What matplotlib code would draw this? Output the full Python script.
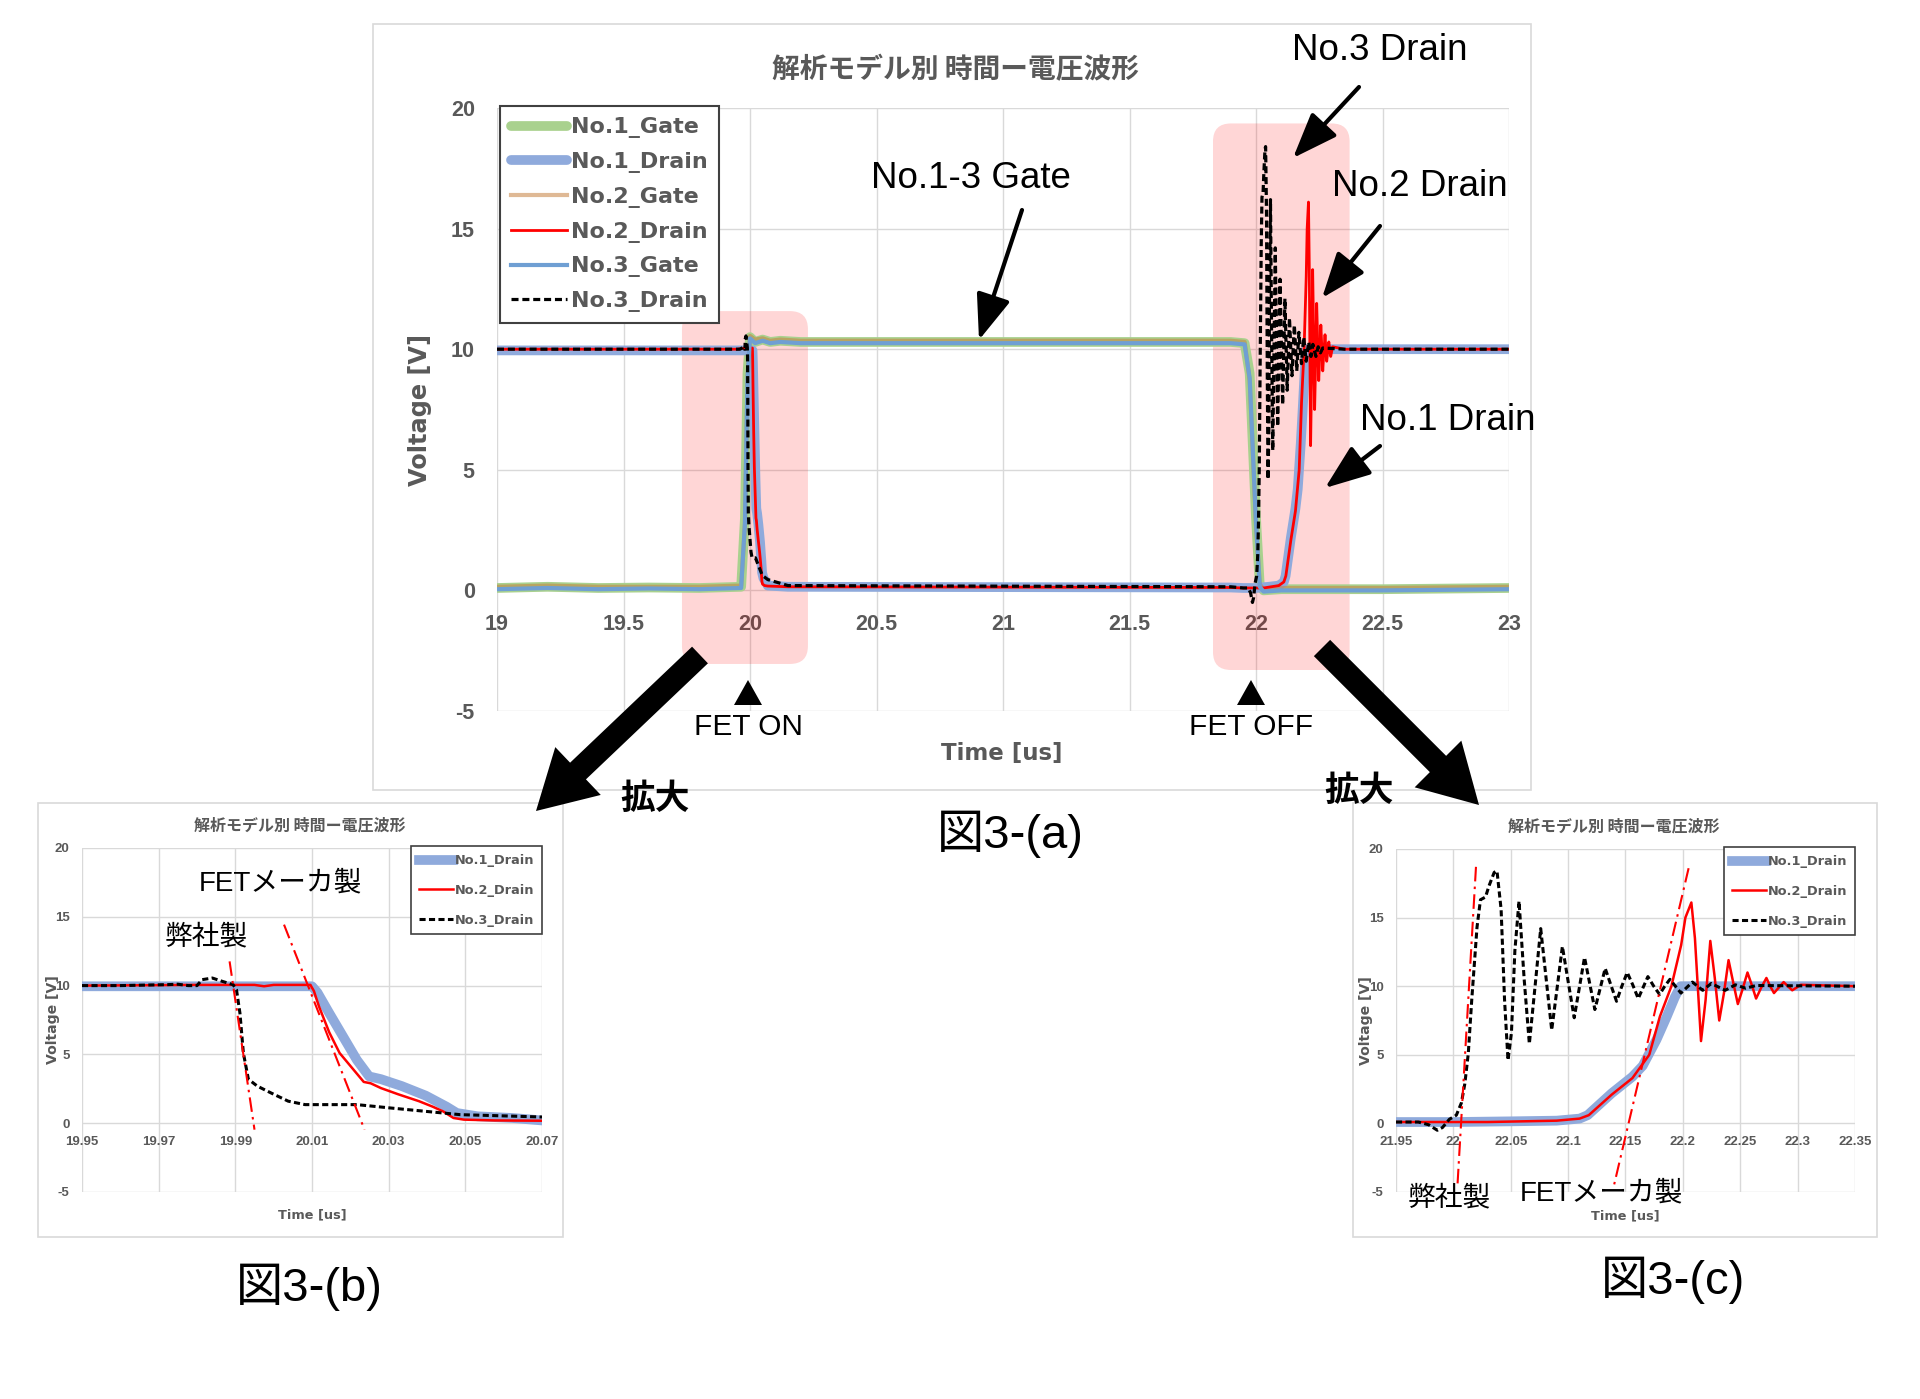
import matplotlib

matplotlib.use("Agg")
import matplotlib.pyplot as plt
from matplotlib.patches import FancyArrow, FancyBboxPatch, Polygon, Rectangle
from matplotlib.transforms import IdentityTransform

W, H = 1920, 1399
GRAY = "#595959"
LATIN = ["Liberation Sans", "Noto Sans CJK JP"]
CJK = ["Noto Sans CJK JP", "DejaVu Sans"]

# ---- gate waveforms (main chart, 19-23 us) ----
gate_t = [19.0, 19.2, 19.4, 19.6, 19.8, 19.965, 19.98, 19.99, 20.0, 20.02, 20.05, 20.08, 20.12,
          20.2, 20.5, 21.0, 21.5, 21.9, 21.955, 21.975, 22.0, 22.015, 22.03, 22.1, 22.5, 23.0]
gate1_v = [0.1, 0.15, 0.1, 0.12, 0.1, 0.15, 3.0, 9.0, 10.5, 10.3, 10.4, 10.3, 10.35,
           10.3, 10.3, 10.3, 10.3, 10.3, 10.25, 9.0, 3.0, 0.2, 0.0, 0.05, 0.05, 0.1]
gate2_v = [0.15, 0.2, 0.15, 0.15, 0.15, 0.2, 2.7, 8.7, 10.55, 10.4, 10.45, 10.35, 10.4,
           10.35, 10.35, 10.35, 10.35, 10.35, 10.3, 8.7, 2.7, 0.25, 0.05, 0.1, 0.1, 0.15]
gate3_v = [0.05, 0.1, 0.05, 0.08, 0.05, 0.1, 2.8, 8.8, 10.45, 10.25, 10.35, 10.25, 10.3,
           10.25, 10.25, 10.25, 10.25, 10.25, 10.2, 8.8, 2.8, 0.15, -0.05, 0.0, 0.0, 0.05]

# ---- drain waveforms, turn-on (19.95-20.07 us) ----
d1_on_t = [19.95, 19.98, 20.01, 20.0114, 20.0145, 20.0181, 20.0217, 20.0249, 20.028, 20.0334,
           20.0397, 20.0451, 20.0478, 20.0532, 20.0622, 20.07]
d1_on_v = [9.95, 9.95, 9.95, 9.5, 8.0, 6.3, 4.6, 3.4, 3.2, 2.7, 2.0, 1.2, 0.74, 0.5, 0.38, 0.2]
d2_on_t = [19.95, 19.98, 19.995, 19.9975, 20.0, 20.0096, 20.0105, 20.0118, 20.0145, 20.0172,
           20.0208, 20.0235, 20.0253, 20.028, 20.0325, 20.0379, 20.0415, 20.0442, 20.0469,
           20.0496, 20.0577, 20.07]
d2_on_v = [10.0, 10.05, 10.05, 9.95, 10.05, 10.05, 9.6, 8.5, 6.6, 5.1, 3.9, 3.0, 2.9, 2.55,
           2.1, 1.6, 1.2, 0.86, 0.38, 0.26, 0.2, 0.18]
d3_on_t = [19.95, 19.96, 19.9723, 19.975, 19.9777, 19.98, 19.9813, 19.984, 19.9867, 19.9894,
           19.9903, 19.9912, 19.9921, 19.9934, 19.9957, 19.9993, 20.0038, 20.0082, 20.0127,
           20.0217, 20.0307, 20.0397, 20.0487, 20.0577, 20.07]
d3_on_v = [10.0, 10.0, 10.07, 10.1, 10.0, 10.0, 10.43, 10.55, 10.3, 10.07, 9.7, 8.0, 5.1, 3.2,
           2.7, 2.2, 1.6, 1.35, 1.35, 1.35, 1.1, 0.86, 0.62, 0.55, 0.45]

# ---- main-chart low level between the two zoomed windows ----
d1_mid_t, d1_mid_v = [20.15, 21.9], [0.15, 0.12]
d2_mid_t, d2_mid_v = [20.15, 21.9], [0.15, 0.12]
d3_mid_t, d3_mid_v = [20.15, 21.9], [0.2, 0.15]

# ---- drain waveforms, turn-off (21.95-22.35 us) ----
d1_off_t = [21.95, 22.0, 22.05, 22.09, 22.11, 22.117, 22.138, 22.156, 22.165, 22.177, 22.186,
            22.193, 22.198, 22.25, 22.35]
d1_off_v = [0.1, 0.1, 0.15, 0.2, 0.35, 0.6, 2.2, 3.4, 4.2, 6.1, 7.8, 9.2, 10.0, 10.0, 10.0]
d2_off_t = [21.95, 22.03, 22.09, 22.11, 22.118, 22.138, 22.156, 22.1707, 22.18, 22.19, 22.1985,
            22.2022, 22.2074, 22.2105, 22.2158, 22.2198, 22.2239, 22.2278, 22.2317, 22.2358,
            22.2398, 22.2438, 22.2479, 22.2521, 22.2563, 22.2600, 22.2638, 22.2683, 22.2728,
            22.2761, 22.2794, 22.2836, 22.2878, 22.2915, 22.2953, 22.3028, 22.35]
d2_off_v = [0.1, 0.1, 0.2, 0.35, 0.6, 2.1, 3.3, 5.0, 7.8, 10.0, 13.0, 15.0, 16.1, 13.5, 6.0,
            9.0, 13.3, 10.6, 7.5, 9.5, 11.9, 10.3, 8.7, 9.8, 11.0, 10.1, 9.1, 9.9, 10.6, 10.0,
            9.5, 9.9, 10.3, 10.0, 9.7, 10.1, 10.0]
d3_off_t = [21.95, 21.9695, 21.9785, 21.986, 21.9905, 21.9965, 22.0026, 22.007, 22.010, 22.013,
            22.016, 22.0206, 22.0236, 22.028, 22.031, 22.0356, 22.038, 22.0416, 22.0446,
            22.0476, 22.0506, 22.0536, 22.0572, 22.0617, 22.0662, 22.0712, 22.0761, 22.0809,
            22.0857, 22.0903, 22.0950, 22.1001, 22.1053, 22.1098, 22.1143, 22.1188, 22.1233,
            22.1278, 22.1323, 22.1372, 22.1422, 22.1468, 22.1515, 22.1563, 22.1611, 22.1653,
            22.1695, 22.1746, 22.1797, 22.1842, 22.1887, 22.1935, 22.1983, 22.2033, 22.2083,
            22.2128, 22.2173, 22.2248, 22.2368, 22.2458, 22.2548, 22.2638, 22.35]
d3_off_v = [0.1, 0.1, -0.1, -0.5, -0.3, 0.3, 0.6, 1.5, 2.9, 5.1, 9.0, 14.3, 16.3, 16.5, 17.3,
            18.3, 18.4, 15.6, 9.0, 4.6, 6.6, 12.6, 16.2, 10.5, 5.8, 10.0, 14.2, 10.5, 6.8, 9.8,
            12.9, 10.3, 7.7, 9.9, 12.1, 10.2, 8.3, 9.8, 11.3, 10.1, 8.9, 10.0, 11.0, 10.1, 9.1,
            9.9, 10.7, 10.0, 9.4, 10.0, 10.5, 10.0, 9.5, 9.9, 10.3, 10.0, 9.7, 10.2, 9.7, 10.1,
            9.85, 10.05, 10.0]

# slope guide lines in the zoomed charts
guide_on1_t, guide_on1_v = [19.9885, 19.995], [11.76, -0.47]
guide_on2_t, guide_on2_v = [20.0027, 20.0237], [14.43, -0.47]
guide_off1_t, guide_off1_v = [22.0197, 22.0035], [18.7, -4.6]
guide_off2_t, guide_off2_v = [22.205, 22.14], [18.6, -4.5]

# ticks
main_xticks = [19, 19.5, 20, 20.5, 21, 21.5, 22, 22.5, 23]
main_xlabels = ["19", "19.5", "20", "20.5", "21", "21.5", "22", "22.5", "23"]
on_xticks = [19.95, 19.97, 19.99, 20.01, 20.03, 20.05, 20.07]
on_xlabels = ["19.95", "19.97", "19.99", "20.01", "20.03", "20.05", "20.07"]
off_xticks = [21.95, 22.0, 22.05, 22.1, 22.15, 22.2, 22.25, 22.3, 22.35]
off_xlabels = ["21.95", "22", "22.05", "22.1", "22.15", "22.2", "22.25", "22.3", "22.35"]
yticks = [-5, 0, 5, 10, 15, 20]
ylabels = ["-5", "0", "5", "10", "15", "20"]

TITLE = "解析モデル別 時間ー電圧波形"

# main-chart drains = flat 10 V, turn-on detail, low level, turn-off detail, flat 10 V
d1_t = [19.0] + d1_on_t + d1_mid_t + d1_off_t + [23.0]
d1_v = [9.95] + d1_on_v + d1_mid_v + d1_off_v + [10.0]
d2_t = [19.0] + d2_on_t + d2_mid_t + d2_off_t + [23.0]
d2_v = [10.0] + d2_on_v + d2_mid_v + d2_off_v + [10.0]
d3_t = [19.0] + d3_on_t + d3_mid_t + d3_off_t + [23.0]
d3_v = [10.0] + d3_on_v + d3_mid_v + d3_off_v + [10.0]


def fig_rect(x0, y0, x1, y1):
    # image pixel box (top-left origin) -> figure fraction rect
    return [x0 / W, 1 - y1 / H, (x1 - x0) / W, (y1 - y0) / H]


def pix(x, y):
    return (x, H - y)


def style_axes(ax, xlim, xticks, xlabels, tick_fs, xpad, ypad):
    for s in ax.spines.values():
        s.set_visible(False)
    # x labels sit under the 0 V line, as in the spreadsheet chart
    ax.spines["bottom"].set_position(("data", 0))
    ax.set_xlim(*xlim)
    ax.set_ylim(-5, 20)
    ax.set_xticks(xticks, labels=xlabels, fontfamily="Liberation Sans",
                  fontweight="bold", color=GRAY, fontsize=tick_fs)
    ax.set_yticks(yticks, labels=ylabels, fontfamily="Liberation Sans",
                  fontweight="bold", color=GRAY, fontsize=tick_fs)
    ax.grid(True, color="#d9d9d9", lw=1)
    ax.set_axisbelow(True)
    ax.tick_params(axis="x", length=0, pad=xpad)
    ax.tick_params(axis="y", length=0, pad=ypad)


def axis_labels(ax, fs, xl, yl):
    ax.set_xlabel("Time [us]", fontsize=fs, fontweight="bold", color=GRAY,
                  fontfamily="DejaVu Sans", va="center")
    ax.set_ylabel("Voltage [V]", fontsize=fs + 0.8, fontweight="bold", color=GRAY,
                  fontfamily="DejaVu Sans", va="center")
    ax.xaxis.set_label_coords(*xl)
    ax.yaxis.set_label_coords(*yl)


fig = plt.figure(figsize=(W / 100, H / 100), dpi=100)
fig.patch.set_facecolor("white")

# chart frames
for box in [(373, 24, 1531, 790), (38, 803, 563, 1237), (1353, 803, 1877, 1237)]:
    r = fig_rect(*box)
    fig.add_artist(Rectangle(r[:2], r[2], r[3], transform=fig.transFigure,
                             fill=False, ec="#d9d9d9", lw=1.2, zorder=0))

# ---------------- main chart ----------------
ax = fig.add_axes(fig_rect(497, 108, 1509, 711))
style_axes(ax, (19, 23), main_xticks, main_xlabels, 15.5, 17, 16)
axis_labels(ax, 16.5, (0.499, -0.07), (-0.076, 0.5))

ax.plot(gate_t, gate1_v, color="#a9d18e", lw=7, label="No.1_Gate", zorder=2,
        solid_capstyle="round")
ax.plot(d1_t, d1_v, color="#8faadc", lw=7, label="No.1_Drain", zorder=2.1,
        solid_capstyle="round")
ax.plot(gate_t, gate2_v, color="#c5803f", lw=3, alpha=0.55, label="No.2_Gate", zorder=2.2)
ax.plot(d2_t, d2_v, color="#ff0000", lw=2, label="No.2_Drain", zorder=2.3)
ax.plot(gate_t, gate3_v, color="#6f9fd3", lw=3, label="No.3_Gate", zorder=2.4)
ax.plot(d3_t, d3_v, color="black", lw=2.3, ls=(0, (2.2, 1.2)), label="No.3_Drain", zorder=2.5)

leg = ax.legend(loc="upper left", bbox_to_anchor=(0.003, 1.003), borderaxespad=0,
                prop={"family": "DejaVu Sans", "weight": "bold", "size": 16},
                labelcolor=GRAY, fancybox=False, framealpha=1, edgecolor="#404040",
                handlelength=2.5, handletextpad=0.2, labelspacing=0.62, borderpad=0.5)
leg.get_frame().set_linewidth(1.5)

# pink highlight boxes (data extents -> display pixels)
for (t0, v0, t1, v1) in [(19.731, -3.05, 20.229, 11.58), (21.83, -3.3, 22.37, 19.36)]:
    (x0, y0), (x1, y1) = ax.transData.transform([(t0, v0), (t1, v1)])
    ax.add_patch(FancyBboxPatch((x0, y0), x1 - x0, y1 - y0,
                                boxstyle="round,pad=0,rounding_size=18",
                                transform=IdentityTransform(), fc=(1, 0, 0, 0.16),
                                ec="none", zorder=1.5))

fig.text(956 / W, 1 - 70 / H, TITLE, ha="center", va="center", fontsize=20,
         fontweight="bold", color=GRAY, family=CJK)

# callouts
for label, (tx, ty) in [("No.1-3 Gate", (971, 179)), ("No.3 Drain", (1380, 51)),
                        ("No.2 Drain", (1420, 186)), ("No.1 Drain", (1448, 421))]:
    fig.text(tx / W, 1 - ty / H, label, ha="center", va="center", fontsize=26.5,
             color="black", family=LATIN)
for tail, tip in [((1022, 210), (979, 340)), ((1359, 87), (1293, 158)),
                  ((1380, 226), (1322, 298)), ((1380, 446), (1325, 488))]:
    ax.annotate("", xy=pix(*tip), xytext=pix(*tail), xycoords="figure pixels",
                textcoords="figure pixels", annotation_clip=False,
                arrowprops=dict(arrowstyle="-|>,head_length=1.0,head_width=0.38",
                                color="black", lw=3, mutation_scale=28,
                                shrinkA=0, shrinkB=0), zorder=10)

for cx, label in [(748, "FET ON"), (1251, "FET OFF")]:
    fig.add_artist(Polygon([pix(cx, 680), pix(cx - 14, 705), pix(cx + 14, 705)],
                           closed=True, fc="black", ec="none",
                           transform=IdentityTransform(), zorder=6))
    fig.text(cx / W, 1 - 727 / H, label, ha="center", va="center", fontsize=21.5,
             color="black", family=LATIN)

# big "zoom" arrows
for (tx, ty), (hx, hy) in [((700, 655), (536, 811)), ((1322, 648), (1479, 805))]:
    x0, y0 = pix(tx, ty)
    x1, y1 = pix(hx, hy)
    fig.add_artist(FancyArrow(x0, y0, x1 - x0, y1 - y0, width=23, head_width=66,
                              head_length=58, length_includes_head=True, fc="black",
                              ec="none", transform=IdentityTransform(), zorder=6))
fig.text(655 / W, 1 - 798 / H, "拡大", ha="center", va="center", fontsize=25,
         fontweight="bold", family=CJK)
fig.text(1359 / W, 1 - 790 / H, "拡大", ha="center", va="center", fontsize=25,
         fontweight="bold", family=CJK)

fig.text(1010 / W, 1 - 834 / H, "図3-(a)", ha="center", va="center", fontsize=34, family=LATIN)
fig.text(309 / W, 1 - 1287 / H, "図3-(b)", ha="center", va="center", fontsize=34, family=LATIN)
fig.text(1673 / W, 1 - 1280 / H, "図3-(c)", ha="center", va="center", fontsize=34, family=LATIN)


# ---------------- zoomed charts ----------------
def zoom_chart(rect, xlim, xticks, xlabels, series, guides, title_xy, xl, yl):
    zx = fig.add_axes(fig_rect(*rect))
    style_axes(zx, xlim, xticks, xlabels, 9.5, 9, 9)
    axis_labels(zx, 9.3, xl, yl)
    (t1, v1), (t2, v2), (t3, v3) = series
    zx.plot(t1, v1, color="#8faadc", lw=7, label="No.1_Drain", zorder=2)
    zx.plot(t2, v2, color="#ff0000", lw=1.8, label="No.2_Drain", zorder=2.2)
    zx.plot(t3, v3, color="black", lw=2.2, ls=(0, (2.0, 1.1)), label="No.3_Drain", zorder=2.4)
    for gt, gv in guides:
        zx.plot(gt, gv, color="red", lw=1.5, ls=(0, (7, 2.5, 1.2, 2.5)), zorder=3)
    lg = zx.legend(loc="upper right", bbox_to_anchor=(1.0, 1.005), borderaxespad=0,
                   prop={"family": "DejaVu Sans", "weight": "bold", "size": 9.3},
                   labelcolor=GRAY, fancybox=False, framealpha=1, edgecolor="#404040",
                   handlelength=2.6, handletextpad=0.15, labelspacing=1.3, borderpad=0.6)
    lg.get_frame().set_linewidth(1.2)
    fig.text(title_xy[0] / W, 1 - title_xy[1] / H, TITLE, ha="center", va="center",
             fontsize=11.5, fontweight="bold", color=GRAY, family=CJK)
    return zx


zoom_chart((82, 848, 542, 1192), (19.95, 20.07), on_xticks, on_xlabels,
           [(d1_on_t, d1_on_v), (d2_on_t, d2_on_v), (d3_on_t, d3_on_v)],
           [(guide_on1_t, guide_on1_v), (guide_on2_t, guide_on2_v)],
           (300, 826), (0.501, -0.067), (-0.064, 0.5))
zoom_chart((1396, 849, 1855, 1192), (21.95, 22.35), off_xticks, off_xlabels,
           [(d1_off_t, d1_off_v), (d2_off_t, d2_off_v), (d3_off_t, d3_off_v)],
           [(guide_off1_t, guide_off1_v), (guide_off2_t, guide_off2_v)],
           (1614, 827), (0.5, -0.07), (-0.066, 0.5))

fig.text(280 / W, 1 - 883 / H, "FETメーカ製", ha="center", va="center", fontsize=20, family=LATIN)
fig.text(206 / W, 1 - 937 / H, "弊社製", ha="center", va="center", fontsize=20, family=LATIN)
fig.text(1449 / W, 1 - 1198 / H, "弊社製", ha="center", va="center", fontsize=20, family=LATIN)
fig.text(1601 / W, 1 - 1193 / H, "FETメーカ製", ha="center", va="center", fontsize=20, family=LATIN)

fig.savefig("out.png", dpi=100)
